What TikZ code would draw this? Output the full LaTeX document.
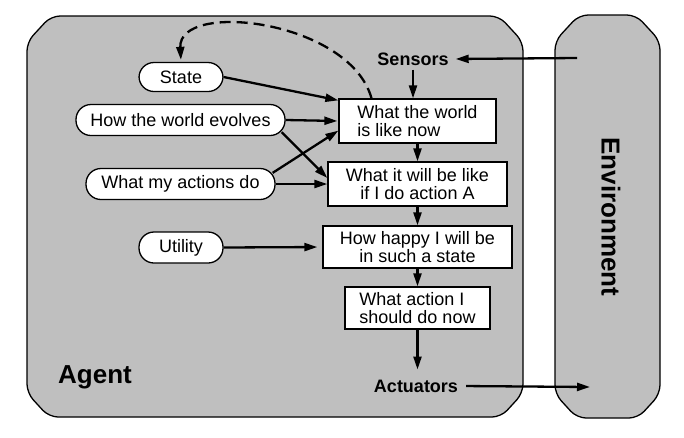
\documentclass[tikz,border=0pt]{standalone}
\usepackage{fontspec}
\setmainfont{Liberation Sans}
\usetikzlibrary{arrows.meta}
\definecolor{panelgrey}{RGB}{191,191,191}
\begin{document}
\begin{tikzpicture}[x=1pt,y=-1pt,
  every node/.style={font=\fontsize{18}{17.5}\selectfont},
  panel/.style={fill=panelgrey, draw=black, line width=1.3pt, rounded corners=9pt},
  stepbox/.style={draw, fill=white, line width=1.3pt, inner sep=0pt, minimum height=44pt},
  oval/.style={draw, fill=white, line width=1.3pt, rounded corners=15pt, minimum height=31pt, inner sep=0pt},
  flow/.style={line width=2.3pt, -{Triangle[length=13pt,width=8pt]}},
  tag/.style={font=\bfseries\fontsize{18}{18}\selectfont, inner sep=4pt},
  bigtag/.style={font=\bfseries\fontsize{26}{26}\selectfont, inner sep=0pt}
]
\useasboundingbox (0,0) rectangle (684,437);
\fill[white] (0,0) rectangle (684,437);

% agent and environment panels (chamfered, softened corners)
\path[panel] (27,42) -- (27,393) -- (49,417) -- (501,417) -- (523,393) -- (523,42) -- (499,16) -- (51,16) -- cycle;
\path[panel] (555,41) -- (555,394) -- (577,418) -- (638,418) -- (660,394) -- (660,41) -- (636,15) -- (579,15) -- cycle;

% processing chain
\node[stepbox, minimum width=157pt, align=left] (world) at (417.5,121) {What the world\\is like now};
\node[stepbox, minimum width=179pt, align=center] (future) at (417.5,184) {What it will be like\\if I do action A};
\node[stepbox, minimum width=189pt, minimum height=42pt, align=center] (happy) at (417.5,247) {How happy I will be\\in such a state};
\node[stepbox, minimum width=145pt, minimum height=42pt, align=left] (act) at (417.5,308) {What action I\\should do now};

% knowledge inputs
\node[oval, minimum width=84pt, minimum height=29pt] (state) at (181,77) {State};
\node[oval, minimum width=209pt] (evolves) at (180.5,120) {How the world evolves};
\node[oval, minimum width=189pt] (actions) at (180.5,184) {What my actions do};
\node[oval, minimum width=84pt] (utility) at (181,247.5) {Utility};

% labels
\node[tag] (sensors) at (413,59) {Sensors};
\node[tag] (actuators) at (416,386) {Actuators};
\node[bigtag] (agentlabel) at (95,377) {Agent};
\node[bigtag, rotate=-90] (envlabel) at (611,217) {Environment};

\coordinate (envin) at (577,58);
\coordinate (envout) at (590,387);

% connectors
\draw[flow, shorten >=3pt] (envin) -- (sensors.east);
\draw[flow] (sensors.south) -- (sensors.south |- world.north);
\draw[flow] (world) -- (future);
\draw[flow] (future) -- (happy);
\draw[flow] (happy) -- (act);
\draw[flow, shorten >=6pt] (act.south) -- (act.south |- actuators.north);
\draw[flow, shorten <=4pt] (actuators.east) -- (envout);

\draw[flow] (state.east) -- ([yshift=-2pt]world.north west);
\draw[flow, shorten >=1pt] (evolves.east) -- (world.west);
\draw[flow] ([xshift=-4pt,yshift=4pt]evolves.south east) -- ([yshift=6pt]future.west);
\draw[flow] ([xshift=-3pt,yshift=-5pt]actions.north east) -- ([yshift=13pt]world.south west);
\draw[flow] (actions.east) -- (future.west);
\draw[flow, shorten >=5pt] (utility.east) -- (happy.west);

% state update loop
\draw[flow, dash pattern=on 11pt off 6pt, shorten >=2pt] ([xshift=-46pt]world.north) .. controls (350,20) and (178,0) .. (state.north);
\end{tikzpicture}
\end{document}
